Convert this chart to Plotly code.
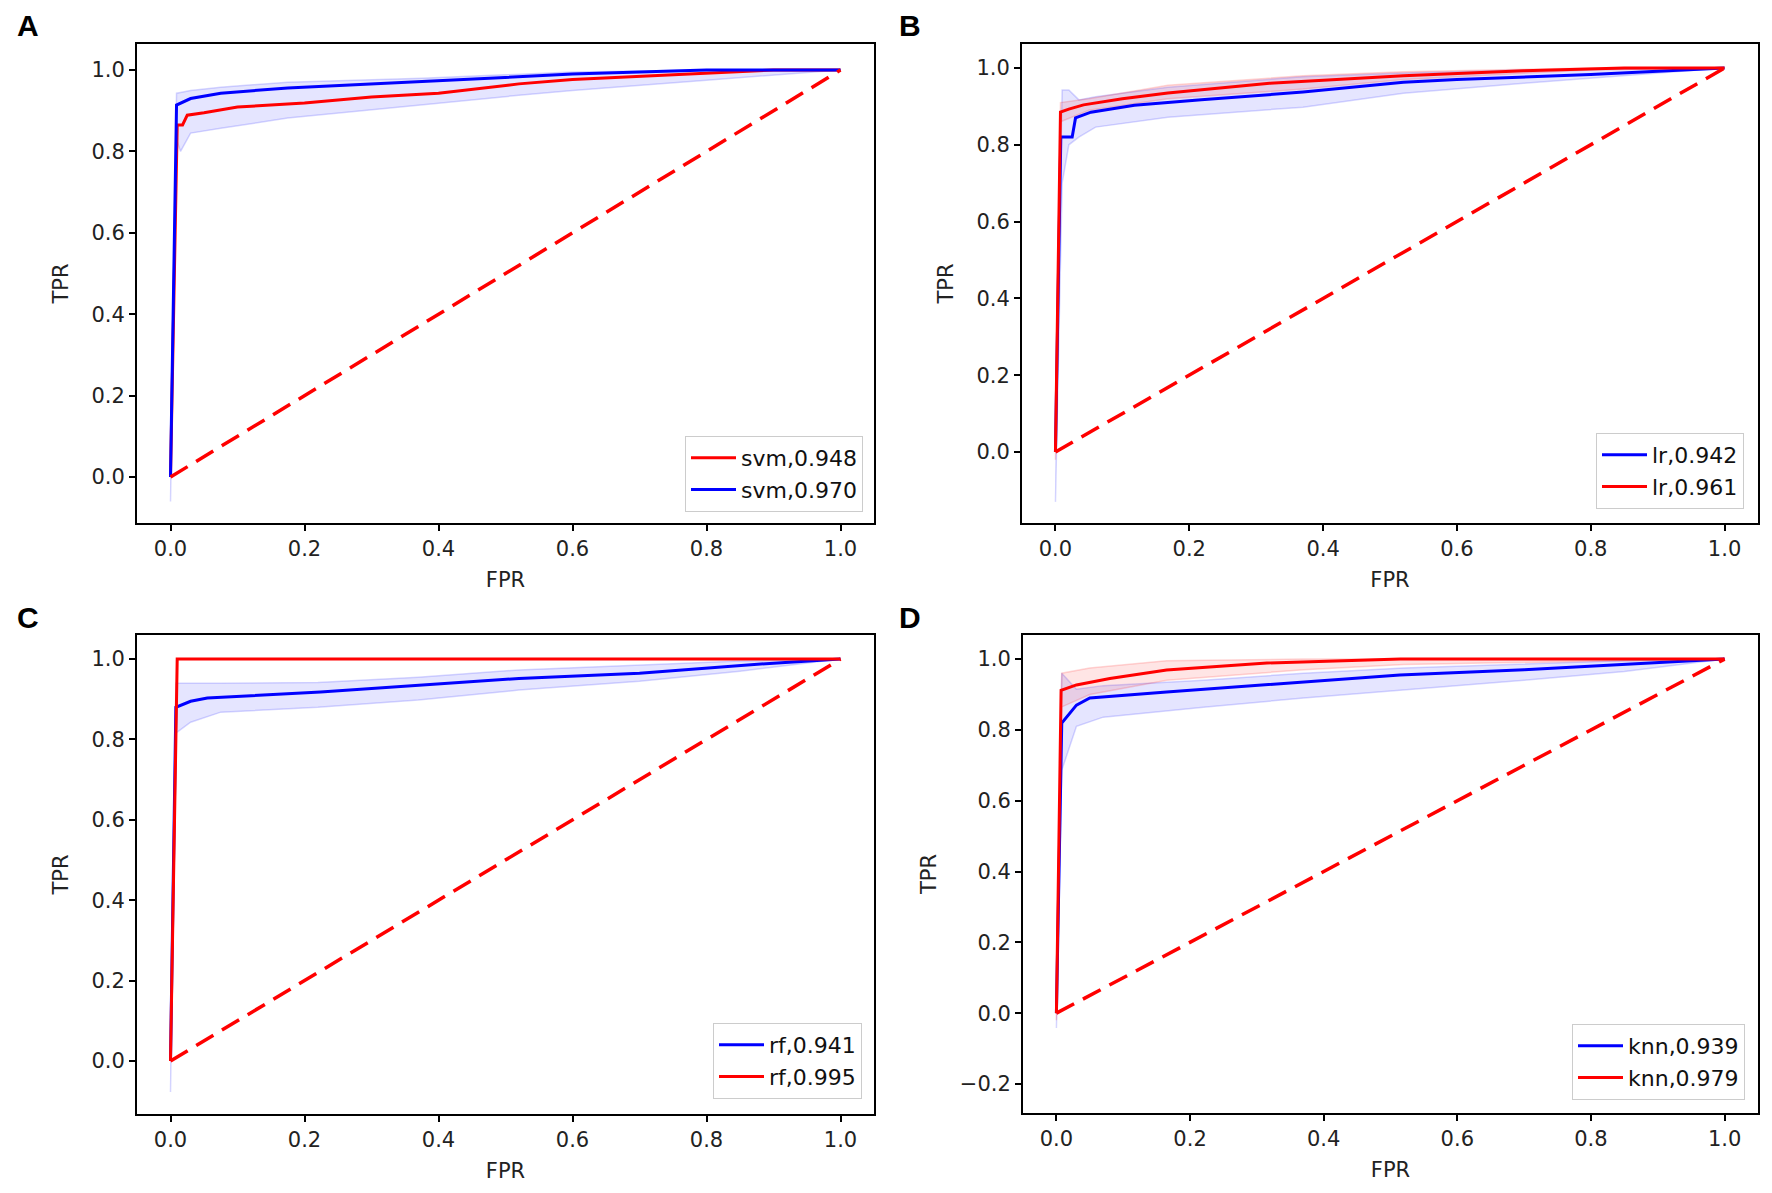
import plotly.graph_objects as go

# ---- data (FPR / TPR) ----
A_FPR_RED = [0, 0.01, 0.018, 0.025, 0.05, 0.1, 0.2, 0.3, 0.4, 0.52, 0.6, 0.7, 0.8, 0.9, 1.0]
A_TPR_RED = [0, 0.865, 0.865, 0.889, 0.895, 0.909, 0.919, 0.934, 0.943, 0.966, 0.977, 0.985, 0.992, 1.0, 1.0]
A_FPR_BLUE = [0, 0.009, 0.03, 0.075, 0.175, 0.32, 0.52, 0.6, 0.7, 0.8, 0.9, 1.0]
A_TPR_BLUE = [0, 0.914, 0.93, 0.943, 0.956, 0.968, 0.985, 0.99, 0.995, 1.0, 1.0, 1.0]
A_BAND_FPR = [0, 0.009, 0.015, 0.03, 0.075, 0.175, 0.375, 0.52, 0.6, 0.8, 1.0]
A_BAND_UP = [0.06, 0.943, 0.945, 0.95, 0.958, 0.97, 0.98, 0.99, 0.995, 1.0, 1.0]
A_BAND_LO = [-0.06, 0.83, 0.80, 0.845, 0.857, 0.882, 0.914, 0.938, 0.95, 0.975, 1.0]

B_FPR_RED = [0, 0.0075, 0.02, 0.042, 0.1, 0.168, 0.32, 0.52, 0.7, 0.85, 1.0]
B_TPR_RED = [0, 0.885, 0.893, 0.904, 0.92, 0.935, 0.96, 0.98, 0.993, 1.0, 1.0]
B_FPR_BLUE = [0, 0.008, 0.025, 0.03, 0.053, 0.118, 0.218, 0.37, 0.52, 0.6, 0.8, 1.0]
B_TPR_BLUE = [0, 0.82, 0.82, 0.87, 0.885, 0.903, 0.917, 0.9375, 0.963, 0.97, 0.983, 1.0]
B_BAND_FPR = [0, 0.01, 0.02, 0.035, 0.06, 0.168, 0.37, 0.52, 0.7, 1.0]
B_BAND_UP = [0.05, 0.943, 0.943, 0.917, 0.925, 0.95, 0.977, 0.987, 0.995, 1.0]
B_BAND_LO = [-0.13, 0.70, 0.80, 0.82, 0.846, 0.872, 0.898, 0.934, 0.96, 1.0]
B_RBAND_FPR = [0, 0.0075, 0.05, 0.168, 0.37, 0.52, 0.8, 1.0]
B_RBAND_UP = [0.02, 0.91, 0.92, 0.955, 0.98, 0.99, 1.0, 1.0]
B_RBAND_LO = [-0.02, 0.86, 0.89, 0.92, 0.945, 0.97, 0.995, 1.0]

C_FPR_RED = [0, 0.01, 1.0]
C_TPR_RED = [0, 1.0, 1.0]
C_FPR_BLUE = [0, 0.008, 0.03, 0.055, 0.224, 0.373, 0.52, 0.7, 0.8, 0.9, 1.0]
C_TPR_BLUE = [0, 0.88, 0.895, 0.903, 0.918, 0.935, 0.952, 0.965, 0.977, 0.99, 1.0]
C_BAND_FPR = [0, 0.008, 0.03, 0.075, 0.22, 0.37, 0.52, 0.7, 0.85, 1.0]
C_BAND_UP = [0.07, 0.94, 0.94, 0.94, 0.942, 0.955, 0.973, 0.985, 0.995, 1.0]
C_BAND_LO = [-0.077, 0.816, 0.843, 0.868, 0.88, 0.898, 0.923, 0.945, 0.97, 1.0]

D_FPR_RED = [0, 0.007, 0.03, 0.08, 0.165, 0.315, 0.515, 1.0]
D_TPR_RED = [0, 0.912, 0.927, 0.945, 0.969, 0.989, 1.0, 1.0]
D_FPR_BLUE = [0, 0.008, 0.03, 0.05, 0.165, 0.364, 0.514, 0.7, 0.85, 1.0]
D_TPR_BLUE = [0, 0.819, 0.87, 0.89, 0.907, 0.935, 0.955, 0.97, 0.985, 1.0]
D_BAND_FPR = [0, 0.008, 0.03, 0.07, 0.22, 0.37, 0.52, 0.7, 0.85, 1.0]
D_BAND_UP = [0.04, 0.96, 0.915, 0.925, 0.94, 0.96, 0.975, 0.985, 0.995, 1.0]
D_BAND_LO = [-0.042, 0.686, 0.81, 0.836, 0.864, 0.89, 0.912, 0.94, 0.965, 1.0]
D_RBAND_FPR = [0, 0.008, 0.05, 0.165, 0.37, 0.52, 1.0]
D_RBAND_UP = [0.02, 0.96, 0.975, 0.995, 1.0, 1.0, 1.0]
D_RBAND_LO = [-0.02, 0.865, 0.9, 0.94, 0.97, 0.985, 1.0]

DIAG = [0, 1]
X_TICKS = [0, 0.2, 0.4, 0.6, 0.8, 1.0]

RED = '#ff0000'
BLUE = '#0000ff'
FONT = 'DejaVu Sans'

W, H = 1772, 1193
OFF = 8  # page body margin that shifts the figure


def px(x):
    return (x - OFF) / W


def py(y):
    return 1 - (y - OFF) / H


panels = [
    dict(label='A', n='', xd=[px(137), px(874)], yd=[py(523), py(44)],
         yr=[-0.113, 1.064], yt=[0, 0.2, 0.4, 0.6, 0.8, 1.0],
         leg='legend', lx=px(863), ly=py(512), lab=(px(28), 1.0)),
    dict(label='B', n='2', xd=[px(1022), px(1758)], yd=[py(523), py(44)],
         yr=[-0.185, 1.0625], yt=[0, 0.2, 0.4, 0.6, 0.8, 1.0],
         leg='legend2', lx=px(1744), ly=py(509), lab=(px(910), 1.0)),
    dict(label='C', n='3', xd=[px(137), px(874)], yd=[py(1114), py(635)],
         yr=[-0.132, 1.06], yt=[0, 0.2, 0.4, 0.6, 0.8, 1.0],
         leg='legend3', lx=px(862), ly=py(1099), lab=(px(28), py(600))),
    dict(label='D', n='4', xd=[px(1023), px(1758)], yd=[py(1113), py(635)],
         yr=[-0.282, 1.068], yt=[-0.2, 0, 0.2, 0.4, 0.6, 0.8, 1.0],
         leg='legend4', lx=px(1745), ly=py(1100), lab=(px(910), py(600))),
]

fig = go.Figure()


def band(p, fpr, up, lo, rgb):
    fig.add_trace(go.Scatter(
        x=fpr + fpr[::-1], y=up + lo[::-1], mode='lines', fill='toself',
        fillcolor=f'rgba({rgb},0.10)', line=dict(color=f'rgba({rgb},0.16)', width=1.5),
        showlegend=False, hoverinfo='skip', xaxis='x' + p['n'], yaxis='y' + p['n']))


def curve(p, fpr, tpr, col, name):
    fig.add_trace(go.Scatter(
        x=fpr, y=tpr, mode='lines', name=name, line=dict(color=col, width=3),
        legend=p['leg'], xaxis='x' + p['n'], yaxis='y' + p['n']))


def diag(p):
    fig.add_trace(go.Scatter(
        x=DIAG, y=DIAG, mode='lines', line=dict(color=RED, width=3.5, dash='20px,10px'),
        showlegend=False, xaxis='x' + p['n'], yaxis='y' + p['n']))


pA, pB, pC, pD = panels

band(pA, A_BAND_FPR, A_BAND_UP, A_BAND_LO, '0,0,255')
curve(pA, A_FPR_RED, A_TPR_RED, RED, 'svm,0.948')
curve(pA, A_FPR_BLUE, A_TPR_BLUE, BLUE, 'svm,0.970')
diag(pA)

band(pB, B_BAND_FPR, B_BAND_UP, B_BAND_LO, '0,0,255')
band(pB, B_RBAND_FPR, B_RBAND_UP, B_RBAND_LO, '255,0,0')
curve(pB, B_FPR_BLUE, B_TPR_BLUE, BLUE, 'lr,0.942')
curve(pB, B_FPR_RED, B_TPR_RED, RED, 'lr,0.961')
diag(pB)

band(pC, C_BAND_FPR, C_BAND_UP, C_BAND_LO, '0,0,255')
curve(pC, C_FPR_BLUE, C_TPR_BLUE, BLUE, 'rf,0.941')
curve(pC, C_FPR_RED, C_TPR_RED, RED, 'rf,0.995')
diag(pC)

band(pD, D_BAND_FPR, D_BAND_UP, D_BAND_LO, '0,0,255')
band(pD, D_RBAND_FPR, D_RBAND_UP, D_RBAND_LO, '255,0,0')
curve(pD, D_FPR_BLUE, D_TPR_BLUE, BLUE, 'knn,0.939')
curve(pD, D_FPR_RED, D_TPR_RED, RED, 'knn,0.979')
diag(pD)

axis_common = dict(
    showline=True, mirror=True, linecolor='black', linewidth=2,
    showgrid=False, zeroline=False, ticks='outside', ticklen=6, tickwidth=2,
    tickcolor='black', tickformat='.1f',
    tickfont=dict(family=FONT, size=21, color='#222'),
)

layout = dict(
    width=W, height=H, margin=dict(l=0, r=0, t=0, b=0),
    paper_bgcolor='white', plot_bgcolor='white',
    font=dict(family=FONT, color='#222'),
)
annotations = []
for p in panels:
    n = p['n']
    layout['xaxis' + n] = dict(
        axis_common, domain=p['xd'], range=[-0.05, 1.05], tickvals=X_TICKS,
        anchor='y' + n,
        title=dict(text='FPR', font=dict(family=FONT, size=21, color='#222'), standoff=12))
    layout['yaxis' + n] = dict(
        axis_common, domain=p['yd'], range=p['yr'], tickvals=p['yt'],
        anchor='x' + n,
        title=dict(text='TPR', font=dict(family=FONT, size=21, color='#222'), standoff=17))
    layout[p['leg']] = dict(
        x=p['lx'], y=p['ly'], xanchor='right', yanchor='bottom',
        xref='paper', yref='paper', itemwidth=45,
        bgcolor='rgba(255,255,255,0.85)', bordercolor='#cccccc', borderwidth=1,
        font=dict(family=FONT, size=22, color='#111'),
    )
    annotations.append(dict(
        text=f"<b>{p['label']}</b>", x=p['lab'][0], y=p['lab'][1],
        xref='paper', yref='paper', showarrow=False,
        xanchor='center', yanchor='top', borderpad=0,
        font=dict(family='Liberation Sans', size=30, color='black')))

layout['annotations'] = annotations
fig.update_layout(**layout)

fig.write_html('out.html')
